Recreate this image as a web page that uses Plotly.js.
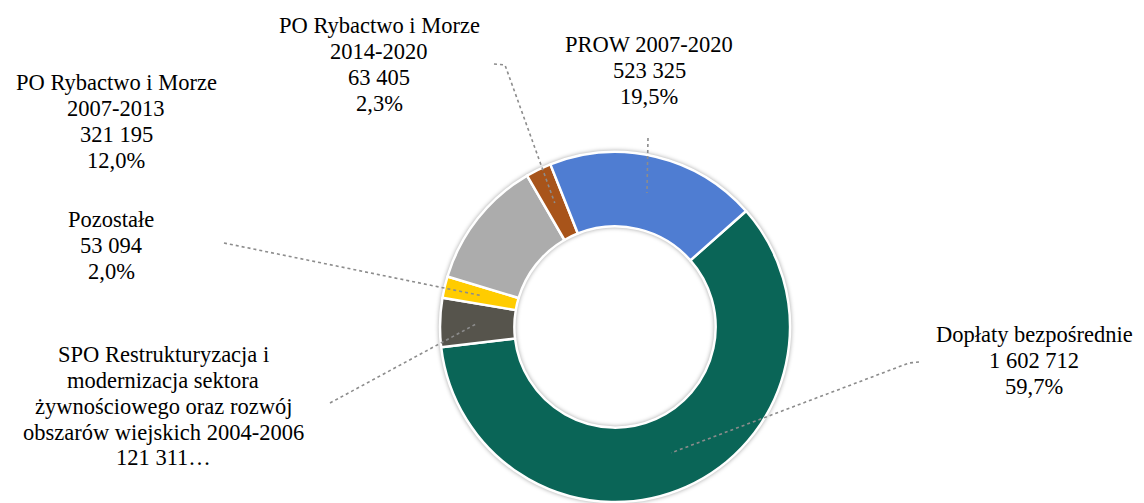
<!DOCTYPE html>
<html>
<head>
<meta charset="utf-8">
<script src="https://cdn.plot.ly/plotly-3.0.1.min.js"></script>
<style>
  html, body { margin: 0; padding: 0; background: #ffffff; }
  #chart { width: 1144px; height: 503px; }
  .pielayer { filter: drop-shadow(0px 0px 2px rgba(0,0,0,0.35)); }
</style>
</head>
<body>
<div id="chart"></div>
<script>
// ---- Data ----
const categories = [
  'Dopłaty bezpośrednie',
  'SPO Restrukturyzacja i modernizacja sektora żywnościowego oraz rozwój obszarów wiejskich 2004-2006',
  'Pozostałe',
  'PO Rybactwo i Morze 2007-2013',
  'PO Rybactwo i Morze 2014-2020',
  'PROW 2007-2020'
];
const values = [1602712, 121311, 53094, 321195, 63405, 523325];
// percentages as printed on the chart
const percentLabels = ['59,7%', '4,5%', '2,0%', '12,0%', '2,3%', '19,5%'];
const nameLines = [
  ['Dopłaty bezpośrednie'],
  ['SPO Restrukturyzacja i', 'modernizacja sektora', 'żywnościowego oraz rozwój', 'obszarów wiejskich 2004-2006'],
  ['Pozostałe'],
  ['PO Rybactwo i Morze', '2007-2013'],
  ['PO Rybactwo i Morze', '2014-2020'],
  ['PROW 2007-2020']
];
const truncated = [false, true, false, false, false, false];
const colors = ['#0a6557', '#56544c', '#ffcc00', '#acacac', '#a8541a', '#4f7dd2'];

// ---- Layout constants ----
const W = 1144, H = 503;
const CX = 615, CY = 327, R = 175;
const HOLE = 0.575;
const ROT = 48.5;
// label placement: centre x, first-line baseline y
const labelPos = [
  [1034, 342], [163, 362], [111, 227], [116, 90], [379, 33], [649, 52]
];
const PITCH = 25.8;
// label-side end points of leader lines (with optional elbow)
const leaderEnds = [
  [[919, 362], [909, 363]],
  [[330, 403]],
  [[224, 243]],
  null,
  [[494, 64], [505, 65]],
  [[648, 138]]
];

const px = x => x / W;
const py = y => 1 - y / H;

const fmtNum = v => String(v).replace(/\B(?=(\d{3})+(?!\d))/g, ' ');

const trace = {
  type: 'pie',
  labels: categories,
  values: values,
  sort: false,
  direction: 'clockwise',
  rotation: ROT,
  hole: HOLE,
  textinfo: 'none',
  hoverinfo: 'label+value+percent',
  marker: { colors: colors, line: { color: '#ffffff', width: 2.5 } },
  domain: { x: [px(CX - R), px(CX + R)], y: [py(CY + R), py(CY - R)] },
  showlegend: false
};

const total = values.reduce((a, b) => a + b, 0);
const annotations = [];
const shapes = [];
const FONT = { family: 'Liberation Serif, Times New Roman, serif', size: 22.5, color: '#000000' };

let cum = 0;
values.forEach((v, i) => {
  const lines = nameLines[i].slice();
  if (truncated[i]) {
    lines.push(fmtNum(v) + '…');
  } else {
    lines.push(fmtNum(v));
    lines.push(percentLabels[i]);
  }
  const [lx, lb] = labelPos[i];
  lines.forEach((t, k) => {
    annotations.push({
      text: t, showarrow: false,
      x: px(lx), y: py(lb + k * PITCH - 7.4),
      xref: 'paper', yref: 'paper',
      xanchor: 'center', yanchor: 'middle',
      font: FONT
    });
  });
  // leader line anchor at the middle of the ring, at the slice's mid-angle
  const mid = (ROT + (cum + v / 2) / total * 360) * Math.PI / 180;
  cum += v;
  const rm = R * (1 + HOLE) / 2;
  const ax = CX + rm * Math.sin(mid);
  const ay = CY - rm * Math.cos(mid);
  if (leaderEnds[i]) {
    const pts = leaderEnds[i].concat([[ax, ay]]);
    const path = pts.map((p, k) => (k ? 'L' : 'M') + px(p[0]).toFixed(5) + ',' + py(p[1]).toFixed(5)).join(' ');
    shapes.push({
      type: 'path', xref: 'paper', yref: 'paper', path: path,
      line: { color: '#8c8c8c', width: 1.6, dash: 'dot' }
    });
  }
});

const layout = {
  width: W, height: H,
  margin: { l: 0, r: 0, t: 0, b: 0 },
  paper_bgcolor: '#ffffff',
  plot_bgcolor: '#ffffff',
  showlegend: false,
  annotations: annotations,
  shapes: shapes
};

Plotly.newPlot('chart', [trace], layout, { displayModeBar: false, staticPlot: true });
</script>
</body>
</html>
